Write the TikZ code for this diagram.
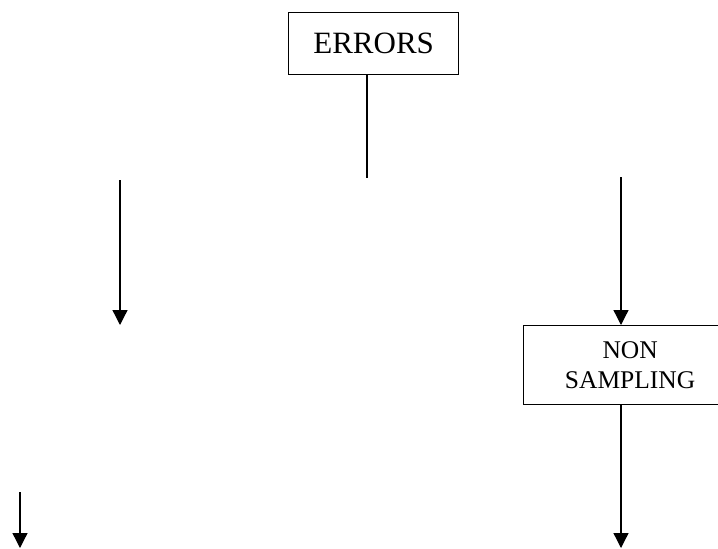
\documentclass[tikz,border=0pt]{standalone}
\usepackage{fontspec}
\setmainfont{Liberation Serif}
\usetikzlibrary{arrows.meta}
\begin{document}
\begin{tikzpicture}[x=1pt,y=-1pt,line width=1.3pt,
  box/.style={draw,line width=1.3pt,inner sep=0pt,anchor=north west,align=center},
  arr/.style={-{Triangle[width=15pt,length=15pt]}}]
\useasboundingbox (0,0) rectangle (718,549);
\clip (0,0) rectangle (718,549);
\node[box,minimum width=170pt,minimum height=62pt,font=\fontsize{31}{36}\selectfont] (errors) at (288,12) {ERRORS};
\node[box,minimum width=213pt,minimum height=79pt,font=\fontsize{25.5}{30}\selectfont] (ns) at (523,325) {NON\\SAMPLING};
\coordinate (c1) at (367,178);
\coordinate (l1) at (120,180);
\coordinate (l2) at (120,325);
\coordinate (r1) at (621,177);
\coordinate (r2) at (621,488);
\coordinate (r3) at (621,548);
\coordinate (b1) at (20,492);
\coordinate (b2) at (20,548);
\draw (c1 |- errors.south) -- (c1);
\draw[arr] (l1) -- (l2);
\draw[arr] (r1) -- (r1 |- ns.north);
\draw (r1 |- ns.south) -- (r2);
\draw[arr] (r2) -- (r3);
\draw[arr] (b1) -- (b2);
\end{tikzpicture}
\end{document}
